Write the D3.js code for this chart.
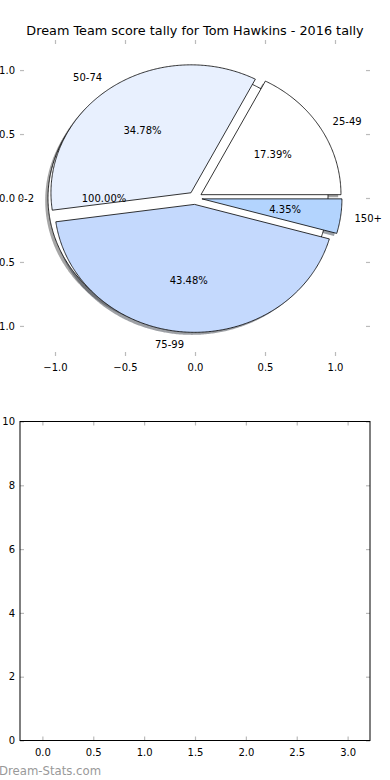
<!DOCTYPE html>
<html>
<head>
<meta charset="utf-8">
<script src="https://cdn.jsdelivr.net/npm/d3@7"></script>
<style>
  body { margin: 0; background: #fff; }
  svg { display: block; font-family: "DejaVu Sans", sans-serif; }
</style>
</head>
<body>
<div id="chart"></div>
<script>
// score bands and number of games in each
var bands = ["25-49", "50-74", "75-99", "150+"];
var games = [4, 8, 10, 1];
var colors = ["#ffffff", "#e8f0fe", "#c4d9fd", "#b3d4fe"];

// the first (empty) band drawn as a full pie underneath
var baseBands = ["0-2"];
var baseGames = [1];
var baseColors = ["#ffffff"];

var pieTicks = [-1.0, -0.5, 0.0, 0.5, 1.0];
var barXTicks = [0.0, 0.5, 1.0, 1.5, 2.0, 2.5, 3.0];
var barYTicks = [0, 2, 4, 6, 8, 10];

var width = 390;
var height = 780;
var explode = 0.05;

var svg = d3
  .select("#chart")
  .append("svg")
  .attr("width", width)
  .attr("height", height);

svg.append("text")
  .attr("x", 195)
  .attr("y", 35)
  .attr("text-anchor", "middle")
  .style("font-size", "12.8px")
  .text("Dream Team score tally for Tom Hawkins - 2016 tally");

// ---- top: pie ----
var x = d3.scaleLinear().domain([-1.25, 1.25]).range([20, 370]);
var y = d3.scaleLinear().domain([-1.235, 1.235]).range([356, 40]);

var line = d3.line()
  .x(function (d) { return x(d[0]); })
  .y(function (d) { return y(d[1]); });

// pie angles: start at 3 o'clock, counter clockwise (like matplotlib)
var pie = d3.pie().sort(null).startAngle(0).endAngle(2 * Math.PI);

function wedgePoints(d, ox, oy) {
  var mid = (d.startAngle + d.endAngle) / 2;
  var cx = explode * Math.cos(mid) + ox;
  var cy = explode * Math.sin(mid) + oy;
  var full = d.endAngle - d.startAngle > 2 * Math.PI - 1e-9;
  var n = Math.max(2, Math.ceil((d.endAngle - d.startAngle) / 0.01));
  var pts = full ? [] : [[cx, cy]];
  for (var i = 0; i <= n; i++) {
    var a = d.startAngle + (d.endAngle - d.startAngle) * i / n;
    pts.push([cx + Math.cos(a), cy + Math.sin(a)]);
  }
  return pts;
}

function shade(c) {
  var rgb = d3.rgb(c);
  return d3.rgb(rgb.r * 0.3, rgb.g * 0.3, rgb.b * 0.3).toString();
}

var baseArcs = pie(baseGames);
var arcs = pie(games);

var allArcs = baseArcs.map(function (d, i) {
  return { arc: d, color: baseColors[i], label: baseBands[i], total: d3.sum(baseGames) };
}).concat(arcs.map(function (d, i) {
  return { arc: d, color: colors[i], label: bands[i], total: d3.sum(games) };
}));

// shadows first
svg.append("g")
  .selectAll("path")
  .data(allArcs)
  .enter()
  .append("path")
  .attr("d", function (d) { return line(wedgePoints(d.arc, -0.02, -0.02)) + "Z"; })
  .style("fill", function (d) { return shade(d.color); })
  .style("opacity", 0.5)
  .style("stroke", "none");

svg.append("g")
  .selectAll("path")
  .data(allArcs)
  .enter()
  .append("path")
  .attr("d", function (d) { return line(wedgePoints(d.arc, 0, 0)) + "Z"; })
  .style("fill", function (d) { return d.color; })
  .style("stroke", "#000")
  .style("stroke-width", 0.8)
  .style("stroke-linejoin", "miter");

var fmt = d3.format(".2f");
allArcs.forEach(function (d) {
  var mid = (d.arc.startAngle + d.arc.endAngle) / 2;
  var cx = explode * Math.cos(mid);
  var cy = explode * Math.sin(mid);
  var lx = cx + 1.1 * Math.cos(mid);
  var ly = cy + 1.1 * Math.sin(mid);
  svg.append("text")
    .attr("x", x(lx))
    .attr("y", y(ly))
    .attr("dy", "0.35em")
    .attr("text-anchor", lx > 0 ? "start" : "end")
    .style("font-size", "10px")
    .text(d.label);
  svg.append("text")
    .attr("x", x(cx + 0.6 * Math.cos(mid)))
    .attr("y", y(cy + 0.6 * Math.sin(mid)))
    .attr("dy", "0.35em")
    .attr("text-anchor", "middle")
    .style("font-size", "10px")
    .text(fmt(100 * d.arc.value / d.total) + "%");
});

// pie axes: ticks only, no frame
var tickColor = "#bbbbbb";
var tfmt = function (v) { return d3.format(".1f")(v).replace("-", "\u2212"); };

svg.append("g")
  .attr("transform", "translate(0,356)")
  .call(d3.axisBottom(x).tickValues(pieTicks).tickFormat(tfmt).tickSizeInner(-4).tickSizeOuter(0).tickPadding(8))
  .call(styleAxis);
svg.append("g")
  .attr("transform", "translate(0,40)")
  .call(d3.axisTop(x).tickValues(pieTicks).tickFormat("").tickSizeInner(-4).tickSizeOuter(0))
  .call(styleAxis);
svg.append("g")
  .attr("transform", "translate(20,0)")
  .call(d3.axisLeft(y).tickValues(pieTicks).tickFormat(tfmt).tickSizeInner(-4).tickSizeOuter(0).tickPadding(5))
  .call(styleAxis);
svg.append("g")
  .attr("transform", "translate(370,0)")
  .call(d3.axisRight(y).tickValues(pieTicks).tickFormat("").tickSizeInner(-4).tickSizeOuter(0))
  .call(styleAxis);

function styleAxis(g) {
  g.select(".domain").remove();
  g.selectAll(".tick line").attr("stroke", tickColor).attr("stroke-width", 1.2);
  g.selectAll(".tick text")
    .attr("fill", "#000")
    .style("font-family", "DejaVu Sans, sans-serif")
    .style("font-size", "10px");
}

// ---- bottom: empty plot ----
var bx = d3.scaleLinear().domain([-0.22, 3.22]).range([20, 370]);
var by = d3.scaleLinear().domain([0, 10]).range([740.5, 421.5]);

svg.append("g")
  .attr("transform", "translate(0,740.5)")
  .call(d3.axisBottom(bx).tickValues(barXTicks).tickFormat(d3.format(".1f")).tickSizeInner(-4).tickSizeOuter(0).tickPadding(8))
  .call(styleAxis);
svg.append("g")
  .attr("transform", "translate(0,421.5)")
  .call(d3.axisTop(bx).tickValues(barXTicks).tickFormat("").tickSizeInner(-4).tickSizeOuter(0))
  .call(styleAxis);
svg.append("g")
  .attr("transform", "translate(20,0)")
  .call(d3.axisLeft(by).tickValues(barYTicks).tickFormat(d3.format("d")).tickSizeInner(-4).tickSizeOuter(0).tickPadding(5))
  .call(styleAxis);
svg.append("g")
  .attr("transform", "translate(370,0)")
  .call(d3.axisRight(by).tickValues(barYTicks).tickFormat("").tickSizeInner(-4).tickSizeOuter(0))
  .call(styleAxis);

svg.append("rect")
  .attr("x", bx(-0.22))
  .attr("y", by(10))
  .attr("width", bx(3.22) - bx(-0.22))
  .attr("height", by(0) - by(10))
  .style("fill", "none")
  .style("stroke", "#000")
  .style("stroke-width", 1);

svg.append("text")
  .attr("x", -1)
  .attr("y", 775)
  .style("font-size", "11.7px")
  .style("fill", "#999999")
  .text("Dream-Stats.com");
</script>
</body>
</html>
